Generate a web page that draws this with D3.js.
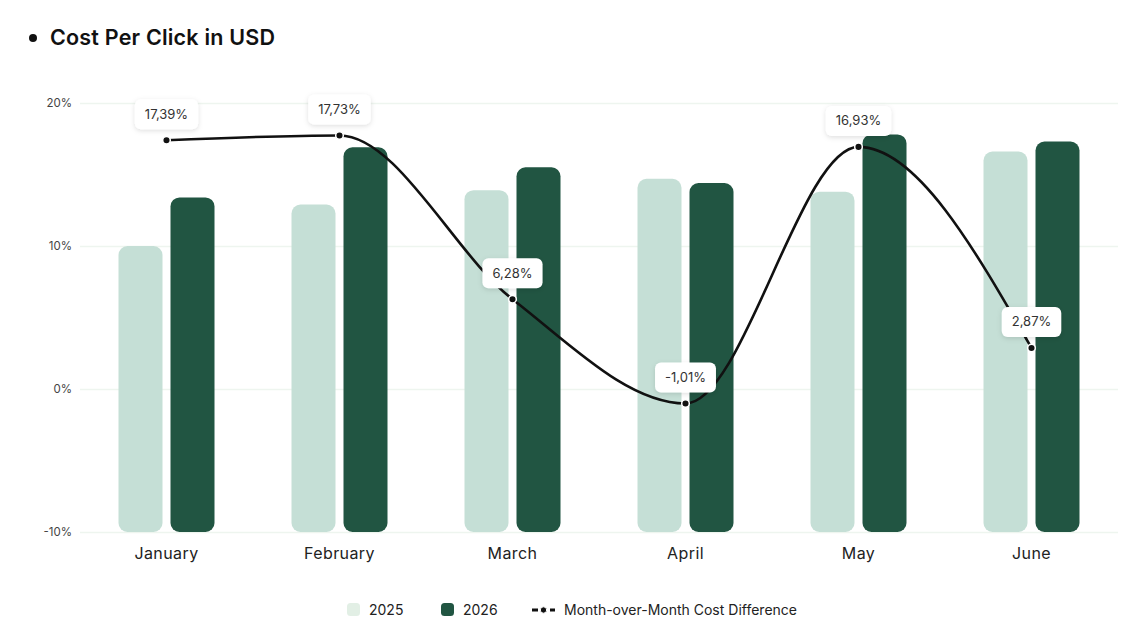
<!DOCTYPE html>
<html>
<head>
<meta charset="utf-8">
<script src="https://cdn.jsdelivr.net/npm/d3@7"></script>
<style>
  html, body { margin: 0; padding: 0; background: #ffffff; }
  svg { display: block; font-family: Inter, "Open Sans", sans-serif; }
</style>
</head>
<body>
<svg id="chart" width="1148" height="623"></svg>
<script>
// ---- data ----
const months = ["January", "February", "March", "April", "May", "June"];
const series = ["2025", "2026"];
const values2025 = [10.0, 12.9, 13.9, 14.7, 13.8, 16.6];
const values2026 = [13.4, 16.9, 15.5, 14.4, 17.8, 17.3];
const momDiff = [17.39, 17.73, 6.28, -1.01, 16.93, 2.87];
const yTicks = [-10, 0, 10, 20];
const title = "Cost Per Click in USD";
const lineLabel = "Month-over-Month Cost Difference";

// ---- styles ----
const colors = { "2025": "#c5dfd6", "2026": "#215542" };
const legendColors = { "2025": "#e2efe5", "2026": "#215542" };

const svg = d3.select("#chart");
const plotLeft = 80, plotRight = 1118, plotTop = 103, plotBottom = 532;

const x0 = d3.scaleBand().domain(months).range([plotLeft, plotRight]).padding(0);
const x1 = d3.scaleBand().domain(series).range([-48, 48]).paddingInner(8 / 52);
const y = d3.scaleLinear().domain([-10, 20]).range([plotBottom, plotTop]);

const defs = svg.append("defs");
const f = defs.append("filter").attr("id", "shadow")
  .attr("x", "-30%").attr("y", "-40%").attr("width", "160%").attr("height", "200%");
f.append("feDropShadow").attr("dx", 0).attr("dy", 1.5).attr("stdDeviation", 2.5)
  .attr("flood-color", "#000").attr("flood-opacity", 0.13);

// title
svg.append("circle").attr("cx", 33).attr("cy", 38).attr("r", 4).attr("fill", "#111");
svg.append("text").attr("x", 50).attr("y", 45)
  .attr("font-size", 21.5).attr("font-weight", 600).attr("fill", "#111")
  .attr("letter-spacing", "0.2")
  .text(title);

// grid + y axis
const yAxis = d3.axisLeft(y).tickValues(yTicks).tickFormat(d => d + "%")
  .tickSize(-(plotRight - plotLeft)).tickPadding(8);
const gy = svg.append("g").attr("transform", `translate(${plotLeft},0)`).call(yAxis);
gy.select(".domain").remove();
gy.selectAll(".tick line").attr("stroke", "#eef5ef").attr("stroke-width", 1.5);
gy.selectAll(".tick text").attr("font-size", 11.5).attr("fill", "#444")
  .attr("font-family", "Inter, sans-serif");

// bars
const data = months.map((m, i) => ({ month: m, vals: [
  { s: "2025", v: values2025[i] }, { s: "2026", v: values2026[i] } ] }));
const groups = svg.append("g").selectAll("g").data(data).join("g")
  .attr("transform", d => `translate(${x0(d.month) + x0.bandwidth() / 2},0)`);
groups.selectAll("rect").data(d => d.vals).join("rect")
  .attr("x", d => x1(d.s))
  .attr("width", x1.bandwidth())
  .attr("y", d => y(d.v))
  .attr("height", d => y(-10) - y(d.v))
  .attr("rx", 9).attr("ry", 9)
  .attr("fill", d => colors[d.s]);

// x axis
const xAxis = d3.axisBottom(x0).tickSize(0).tickPadding(16);
const gx = svg.append("g").attr("transform", `translate(0,${plotBottom})`).call(xAxis);
gx.select(".domain").remove();
gx.selectAll(".tick text").attr("font-size", 16).attr("fill", "#222")
  .attr("letter-spacing", "0.4")
  .attr("font-family", "Inter, sans-serif");

// line
const pts = months.map((m, i) => ({ x: x0(m) + x0.bandwidth() / 2, v: momDiff[i] }));
const line = d3.line().x(d => d.x).y(d => y(d.v)).curve(d3.curveMonotoneX);
svg.append("path").datum(pts).attr("d", line)
  .attr("fill", "none").attr("stroke", "#111").attr("stroke-width", 2.6);

// labels
const fmt = v => v.toFixed(2).replace(".", ",") + "%";
const lab = svg.append("g").selectAll("g").data(pts).join("g");
lab.each(function (d) {
  const g = d3.select(this);
  const cy = y(d.v) - 11 - 15;
  const t = g.append("text").attr("x", d.x).attr("y", cy + 4.5)
    .attr("text-anchor", "middle").attr("font-size", 13).attr("fill", "#333")
    .text(fmt(d.v));
  const w = t.node().getComputedTextLength() + 20;
  g.insert("rect", "text").attr("x", d.x - w / 2).attr("y", cy - 15)
    .attr("width", w).attr("height", 30).attr("rx", 6)
    .attr("fill", "#fff").attr("filter", "url(#shadow)");
});

// dots
svg.append("g").selectAll("circle").data(pts).join("circle")
  .attr("cx", d => d.x).attr("cy", d => y(d.v)).attr("r", 3.8)
  .attr("fill", "#111").attr("stroke", "#fff").attr("stroke-width", 1.5);

// legend
const lg = svg.append("g").attr("font-size", 14).attr("fill", "#222");
const ly = 610;
[["2025", 347], ["2026", 441]].forEach(([s, xx]) => {
  lg.append("rect").attr("x", xx).attr("y", ly - 7).attr("width", 13).attr("height", 13)
    .attr("rx", 3.5).attr("fill", legendColors[s]);
  lg.append("text").attr("x", xx + 22).attr("y", ly + 5).text(s);
});
lg.append("line").attr("x1", 532).attr("x2", 555).attr("y1", ly).attr("y2", ly)
  .attr("stroke", "#111").attr("stroke-width", 2.8).attr("stroke-dasharray", "6,3");
lg.append("circle").attr("cx", 543.5).attr("cy", ly).attr("r", 3.2).attr("fill", "#111")
  .attr("stroke", "#fff").attr("stroke-width", 1);
lg.append("text").attr("x", 564).attr("y", ly + 5).text(lineLabel);
</script>
</body>
</html>
